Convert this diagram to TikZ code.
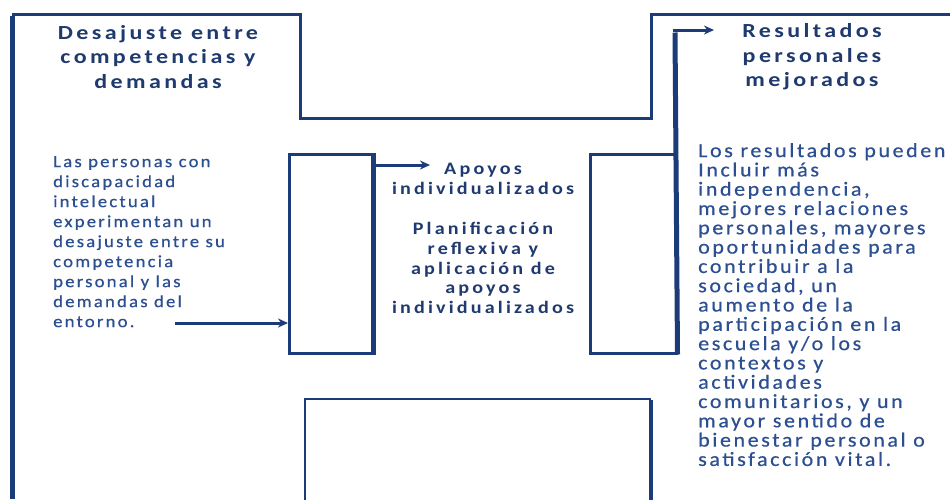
\documentclass[tikz,border=0pt]{standalone}
\usepackage{fontspec}
\setmainfont{Carlito}
\newfontfamily\leftf[LetterSpace=13,FakeStretch=1.1,FakeBold=0.5]{Carlito}
\newfontfamily\rightf[LetterSpace=13,FakeStretch=1.1,FakeBold=0.5]{Carlito}
\newfontfamily\ttlf[LetterSpace=17,FakeStretch=1.2]{Carlito}
\newfontfamily\midf[LetterSpace=18,FakeStretch=1.15]{Carlito}
\usetikzlibrary{arrows.meta}
\definecolor{navy}{HTML}{1B3C78}
\definecolor{txtblue}{HTML}{2C4F92}
\definecolor{ttlblue}{HTML}{1F3A6E}
\tikzset{
  frame/.style={draw=navy, line width=3pt},
  thickedge/.style={draw=navy, line width=5pt},
  boxnode/.style={draw=navy, line width=2.5pt, inner sep=0pt, anchor=north west},
  arr/.style={draw=navy, line width=3pt, -{Stealth[length=10pt,width=9pt]}},
  body/.style={text=txtblue, align=left, inner sep=0pt, anchor=north west,
    font=\leftf\fontsize{17}{20}\selectfont},
  ttl/.style={text=ttlblue, align=center, inner sep=0pt,
    font=\ttlf\bfseries\fontsize{20}{24.5}\selectfont},
  mid/.style={text=ttlblue, align=center, inner sep=0pt,
    font=\midf\bfseries\fontsize{17.5}{19.7}\selectfont},
}
\begin{document}
\begin{tikzpicture}[x=1pt,y=-1pt]
\useasboundingbox[fill=white] (0,0) rectangle (950,499);
% outer frame
\coordinate (o1) at (12,499);
\coordinate (o2) at (12,14);
\coordinate (o3) at (300,14);
\coordinate (o4) at (300,118);
\coordinate (o5) at (651,118);
\coordinate (o6) at (651,14);
\coordinate (o7) at (950,14);
\draw[frame, line join=miter] (o2) -- (o3) -- (o4) -- (o5) -- (o6) -- (o7);
\draw[thickedge] (o1) -- ([yshift=-1.5pt]o2);
% boxes
\node[boxnode, minimum width=83pt, minimum height=199pt] (lbox) at (288,153) {};
\draw[thickedge] (lbox.north east) -- (lbox.south east);
\node[boxnode, minimum width=86pt, minimum height=199pt] (rbox) at (589,153) {};
\coordinate (rtop) at (675,30);
\coordinate (rtip) at (714,30);
\draw[thickedge] (rbox.south east) -- ([yshift=-2.5pt]rtop);
\draw[arr] ([xshift=-2.5pt]rtop) -- (rtip);
\coordinate (bl) at (305,510);
\coordinate (blt) at (305,399);
\coordinate (brt) at (651,399);
\coordinate (br) at (651,510);
\draw[draw=navy, line width=2.5pt] (bl) -- (blt) -- (brt);
\draw[draw=navy, line width=4pt] ([yshift=-1.2pt]brt) -- (br);
% titles
\node[ttl] (t1) at (158,57) {Desajuste entre\\competencias y\\demandas};
\node[ttl] (t2) at (812,57) {Resultados\\personales\\mejorados};
% left text
\node[body] (lt) at (53,156) {Las personas con\\discapacidad\\intelectual\\experimentan un\\desajuste entre su\\competencia\\personal y las\\demandas del\\entorno.};
\coordinate (ls) at (175,323);
\draw[arr] (ls) -- (lbox.west |- ls);
% middle
\coordinate (ms) at (373,165);
\draw[arr] (ms) -- (430,165);
\node[mid] (m1) at (483,179) {Apoyos\\individualizados};
\node[mid] (m2) at (483,268) {Planificación\\reflexiva y\\aplicación de\\apoyos\\individualizados};
% right text
\node[body, font=\rightf\fontsize{20}{19.3}\selectfont] (rt) at (698,143) {Los resultados pueden\\Incluir más\\independencia,\\mejores relaciones\\personales, mayores\\oportunidades para\\contribuir a la\\sociedad, un\\aumento de la\\participación en la\\escuela y/o los\\contextos y\\actividades\\comunitarios, y un\\mayor sentido de\\bienestar personal o\\satisfacción vital.};
\end{tikzpicture}
\end{document}
